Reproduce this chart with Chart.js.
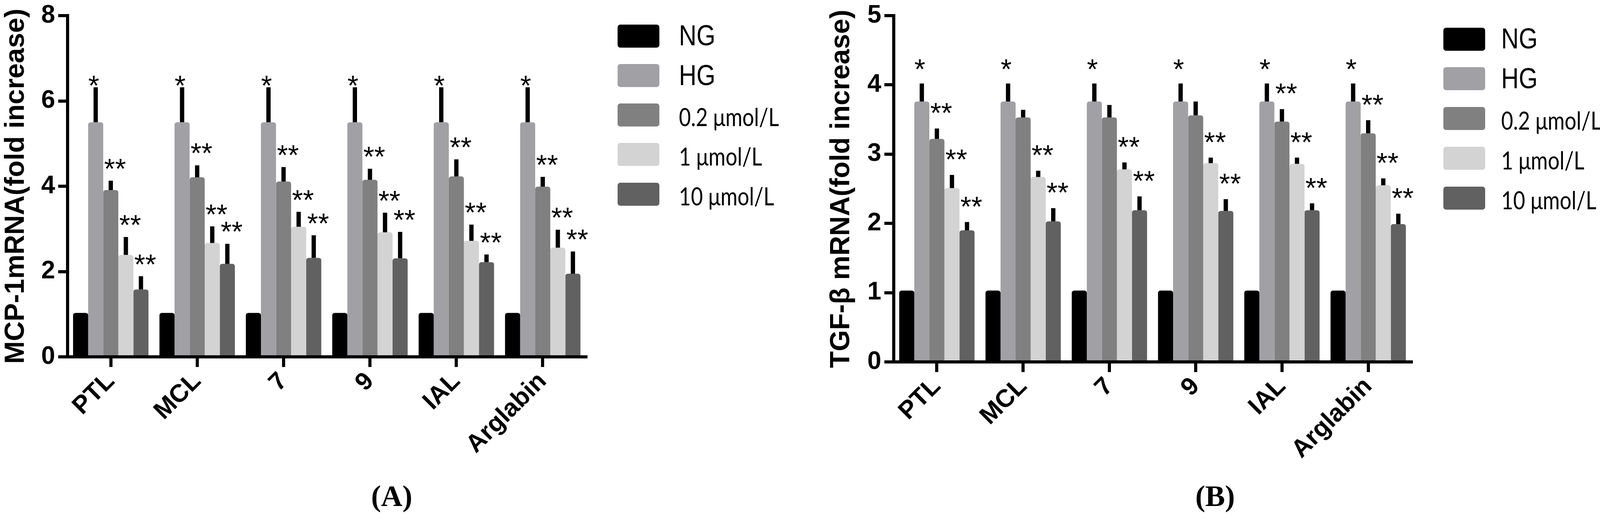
<!DOCTYPE html>
<html>
<head>
<meta charset="utf-8">
<script src="https://cdn.jsdelivr.net/npm/chart.js@4.4.1/dist/chart.umd.min.js"></script>
<style>
  body { margin: 0; background: #fff; }
  #page { position: relative; width: 4169px; height: 1337px; overflow: hidden; background: #fff; }
  .box { position: absolute; top: 0; }
  .swatch { position: absolute; width: 107px; height: 59px; border-radius: 7px; }
  .name { position: absolute; white-space: nowrap; color: #000; line-height: 1; transform-origin: 0 50%; }
  .ng { font-family: "Liberation Sans", Arial, sans-serif; font-size: 75px; transform: scaleX(0.83); }
  .unit { font-family: Lato, "Open Sans", sans-serif; font-size: 63px; transform: scaleX(0.84); }
  .panel { position: absolute; font-family: "Liberation Serif", "Times New Roman", serif; font-weight: bold; font-size: 76px; line-height: 1; }
</style>
</head>
<body>
<div id="page">
  <div class="box" style="left:0;width:1520px;height:1337px"><canvas id="chartA" width="1520" height="1337"></canvas></div>
  <div class="box" style="left:2113px;width:1520px;height:1337px"><canvas id="chartB" width="1520" height="1337"></canvas></div>
  <div class="panel" style="left:950px;top:1232px">(A)</div>
  <div class="panel" style="left:3060px;top:1232px">(B)</div>
</div>
<script>
const categories = ['PTL', 'MCL', '7', '9', 'IAL', 'Arglabin'];
const seriesNames = ['NG', 'HG', '0.2 μmol/L', '1 μmol/L', '10 μmol/L'];
const seriesColors = ['#000000', '#a1a0a5', '#808080', '#d3d3d3', '#616161'];

// (A) MCP-1 mRNA, fold increase
const mcpNG = [1.03, 1.03, 1.03, 1.03, 1.03, 1.03];
const mcpHG = [5.5, 5.5, 5.5, 5.5, 5.5, 5.5];
const mcp02 = [3.91, 4.21, 4.11, 4.15, 4.23, 3.99];
const mcp1 = [2.39, 2.67, 3.05, 2.92, 2.72, 2.56];
const mcp10 = [1.58, 2.18, 2.32, 2.31, 2.22, 1.95];
const mcpErrHG = [0.82, 0.82, 0.82, 0.82, 0.82, 0.82];
const mcpErr02 = [0.22, 0.28, 0.34, 0.26, 0.40, 0.23];
const mcpErr1 = [0.42, 0.39, 0.35, 0.46, 0.38, 0.42];
const mcpErr10 = [0.31, 0.47, 0.53, 0.62, 0.18, 0.52];
const mcpStarsHG = ['*', '*', '*', '*', '*', '*'];
const mcpStars02 = ['**', '**', '**', '**', '**', '**'];
const mcpStars1 = ['**', '**', '**', '**', '**', '**'];
const mcpStars10 = ['**', '**', '**', '**', '**', '**'];
const mcpTicks = [0, 2, 4, 6, 8];

// (B) TGF-β mRNA, fold increase
const tgfNG = [1.03, 1.03, 1.03, 1.03, 1.03, 1.03];
const tgfHG = [3.76, 3.76, 3.76, 3.76, 3.76, 3.76];
const tgf02 = [3.22, 3.53, 3.53, 3.56, 3.47, 3.30];
const tgf1 = [2.51, 2.67, 2.78, 2.87, 2.86, 2.55];
const tgf10 = [1.90, 2.03, 2.19, 2.18, 2.19, 1.99];
const tgfErrHG = [0.26, 0.26, 0.26, 0.26, 0.26, 0.26];
const tgfErr02 = [0.15, 0.11, 0.18, 0.20, 0.18, 0.19];
const tgfErr1 = [0.19, 0.09, 0.10, 0.08, 0.09, 0.10];
const tgfErr10 = [0.12, 0.19, 0.20, 0.17, 0.10, 0.15];
const tgfStarsHG = ['*', '*', '*', '*', '*', '*'];
const tgfStars02 = ['**', '', '', '', '**', '**'];
const tgfStars1 = ['**', '**', '**', '**', '**', '**'];
const tgfStars10 = ['**', '**', '**', '**', '**', '**'];
const tgfTicks = [0, 1, 2, 3, 4, 5];

const SANS = '"Liberation Sans", Arial, Helvetica, sans-serif';

// error bars (upper half only) and significance marks
function marksPlugin(cfg) {
    return {
        id: 'marks',
        afterDatasetsDraw(chart) {
            const ctx = chart.ctx;
            const yScale = chart.scales.y;
            ctx.save();
            chart.data.datasets.forEach((ds, i) => {
                chart.getDatasetMeta(i).data.forEach((bar, j) => {
                    const err = ds.errors ? ds.errors[j] : 0;
                    const base = yScale.getPixelForValue(ds.data[j]);
                    const top = yScale.getPixelForValue(ds.data[j] + err);
                    if (err > 0) {
                        ctx.fillStyle = '#000';
                        ctx.fillRect(bar.x - 5.5, top, 11, base - top);
                    }
                    const s = ds.stars ? ds.stars[j] : '';
                    if (s) {
                        const one = s.length === 1;
                        ctx.font = '72px ' + SANS;
                        ctx.fillStyle = '#000';
                        ctx.textAlign = 'center';
                        ctx.textBaseline = 'alphabetic';
                        ctx.fillText(s, bar.x + (one ? -5 : 11), top + (one ? cfg.dy1 : cfg.dy2));
                    }
                });
            });
            ctx.restore();
        }
    };
}

function buildChart(id, means, errs, stars, ticks, title, opts) {
    const datasets = means.map((m, i) => ({
        label: seriesNames[i],
        data: m,
        errors: errs[i],
        stars: stars[i],
        backgroundColor: seriesColors[i],
        borderWidth: 0,
        borderRadius: 6,
        categoryPercentage: 0.873,
        barPercentage: 1.0
    }));

    new Chart(document.getElementById(id), {
        type: 'bar',
        data: { labels: categories, datasets: datasets },
        options: {
            responsive: false,
            animation: false,
            devicePixelRatio: 1,
            layout: { padding: { top: opts.top, right: 20, left: 0, bottom: 0 } },
            plugins: { legend: { display: false }, tooltip: { enabled: false } },
            scales: {
                x: {
                    afterFit: (scale) => { scale.height = 1337 - opts.bottom; },
                    grid: { offset: false, drawOnChartArea: false, drawTicks: true, tickLength: 26, lineWidth: 8, color: '#000' },
                    border: { display: true, width: 8, color: '#000' },
                    ticks: {
                        autoSkip: false,
                        maxRotation: 45,
                        minRotation: 45,
                        padding: 4,
                        color: '#000',
                        font: { family: SANS, size: 64, weight: 'bold', lineHeight: 1 }
                    }
                },
                y: {
                    min: ticks[0],
                    max: ticks[ticks.length - 1],
                    afterFit: (scale) => { scale.width = opts.left; },
                    afterBuildTicks: (scale) => { scale.ticks = ticks.map(v => ({ value: v })); },
                    grid: { drawOnChartArea: false, drawTicks: true, tickLength: 24, lineWidth: 8, color: '#000' },
                    border: { display: true, width: 8, color: '#000' },
                    ticks: {
                        padding: 8,
                        color: '#000',
                        font: { family: SANS, size: 64, weight: 'bold', lineHeight: 1 }
                    },
                    title: {
                        display: true,
                        text: title,
                        color: '#000',
                        padding: { top: opts.titlePad, bottom: 0 },
                        font: { family: SANS, size: 70, weight: 'bold', lineHeight: 1.2 }
                    }
                }
            }
        },
        plugins: [marksPlugin(opts)]
    });
}

function buildLegend(left, firstRow, step, textLeft) {
    const page = document.getElementById('page');
    seriesNames.forEach((name, i) => {
        const cy = firstRow + i * step;
        const sw = document.createElement('div');
        sw.className = 'swatch';
        sw.style.left = left + 'px';
        sw.style.top = (cy - 29.5) + 'px';
        sw.style.background = seriesColors[i];
        page.appendChild(sw);

        const tx = document.createElement('div');
        tx.className = 'name ' + (i < 2 ? 'ng' : 'unit');
        tx.textContent = name;
        tx.style.left = textLeft + 'px';
        tx.style.top = (i < 2 ? cy - 2 - 0.49 * 75 : cy + 6 - 0.53 * 63) + 'px';
        page.appendChild(tx);
    });
}

buildChart('chartA',
    [mcpNG, mcpHG, mcp02, mcp1, mcp10],
    [null, mcpErrHG, mcpErr02, mcpErr1, mcpErr10],
    [null, mcpStarsHG, mcpStars02, mcpStars1, mcpStars10],
    mcpTicks, 'MCP-1mRNA(fold increase)',
    { top: 33, bottom: 914, left: 173, titlePad: 0, dy1: 20, dy2: -6 });

buildChart('chartB',
    [tgfNG, tgfHG, tgf02, tgf1, tgf10],
    [null, tgfErrHG, tgfErr02, tgfErr1, tgfErr10],
    [null, tgfStarsHG, tgfStars02, tgfStars1, tgfStars10],
    tgfTicks, 'TGF-β mRNA(fold increase)',
    { top: 40, bottom: 927, left: 175, titlePad: 0, dy1: -12, dy2: -15 });

buildLegend(1581, 92, 101.25, 1738);
buildLegend(3695, 100, 101.75, 3843);
</script>
</body>
</html>
